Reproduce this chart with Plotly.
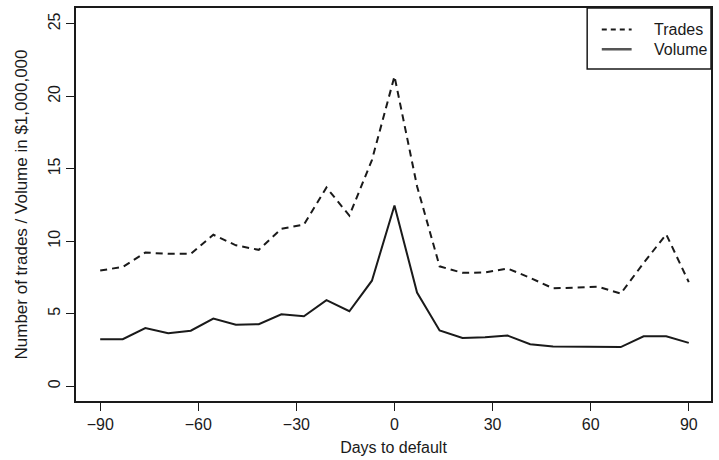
import plotly.graph_objects as go

days = [-90.0, -83.1, -76.2, -69.2, -62.3, -55.4, -48.5, -41.5, -34.6, -27.7, -20.8, -13.8, -6.9, 0.0,
        6.9, 13.8, 20.8, 27.7, 34.6, 41.5, 48.5, 55.4, 62.3, 69.2, 76.2, 83.1, 90.0]
trades = [7.98, 8.23, 9.22, 9.13, 9.13, 10.45, 9.72, 9.41, 10.86, 11.15, 13.71, 11.77, 15.6, 21.38,
          13.8, 8.27, 7.82, 7.85, 8.12, 7.48, 6.75, 6.82, 6.86, 6.39, 8.5, 10.48, 7.18]
volume = [3.24, 3.24, 4.01, 3.65, 3.83, 4.67, 4.24, 4.28, 4.96, 4.83, 5.94, 5.17, 7.28, 12.47,
          6.46, 3.85, 3.33, 3.37, 3.49, 2.9, 2.74, 2.74, 2.74, 2.7, 3.44, 3.44, 2.99]
x_ticks = [-90, -60, -30, 0, 30, 60, 90]
x_tick_labels = ["\u221290", "\u221260", "\u221230", "0", "30", "60", "90"]
y_ticks = [0, 5, 10, 15, 20, 25]
series_names = ["Trades", "Volume"]

INK = "#1a1a1a"
FONT = "Liberation Sans, Arial, sans-serif"

fig = go.Figure()
fig.add_trace(go.Scatter(x=days, y=trades, mode="lines", name=series_names[0],
                         line=dict(color=INK, width=2, dash="7px,5px")))
fig.add_trace(go.Scatter(x=days, y=volume, mode="lines", name=series_names[1],
                         line=dict(color=INK, width=2)))

axis_common = dict(showline=True, linecolor=INK, linewidth=1.5, mirror=True,
                   ticks="outside", ticklen=8, tickwidth=1.2, tickcolor=INK,
                   showgrid=False, zeroline=False,
                   tickfont=dict(family=FONT, size=16, color=INK))

fig.update_layout(
    width=719, height=460,
    margin=dict(l=76, r=6, t=6, b=57),
    paper_bgcolor="white", plot_bgcolor="white",
    font=dict(family=FONT, size=16, color=INK),
    showlegend=False,
    xaxis=dict(range=[-97.4, 96.8], tickvals=x_ticks, ticktext=x_tick_labels,
               title=dict(text="Days to default", standoff=10, font=dict(size=16)), **axis_common),
    yaxis=dict(range=[-1.02, 26.09], tickvals=y_ticks, tickangle=-90,
               title=dict(text="Number of trades / Volume in $1,000,000", standoff=14, font=dict(size=17)),
               **axis_common),
)

# legend box (top-right, R style)
lx0, lx1, ly0, ly1 = 0.805, 1.0, 0.845, 1.0
fig.add_shape(type="rect", xref="paper", yref="paper", x0=lx0, x1=lx1, y0=ly0, y1=ly1,
              line=dict(color=INK, width=1.5), fillcolor="white", layer="above")
rows = [0.945, 0.895]
fig.add_shape(type="line", xref="paper", yref="paper", x0=0.828, x1=0.875, y0=rows[0], y1=rows[0],
              line=dict(color=INK, width=2, dash="5px,4px"), layer="above")
fig.add_shape(type="line", xref="paper", yref="paper", x0=0.828, x1=0.875, y0=rows[1], y1=rows[1],
              line=dict(color="#555555", width=2.5), layer="above")
for name, ry in zip(series_names, rows):
    fig.add_annotation(xref="paper", yref="paper", x=0.907, y=ry, text=name, showarrow=False,
                       xanchor="left", yanchor="middle", font=dict(family=FONT, size=16, color=INK))

fig.write_html("out.html", config={"displayModeBar": False},
               post_script="document.body.style.margin='0';document.body.style.padding='0';")
